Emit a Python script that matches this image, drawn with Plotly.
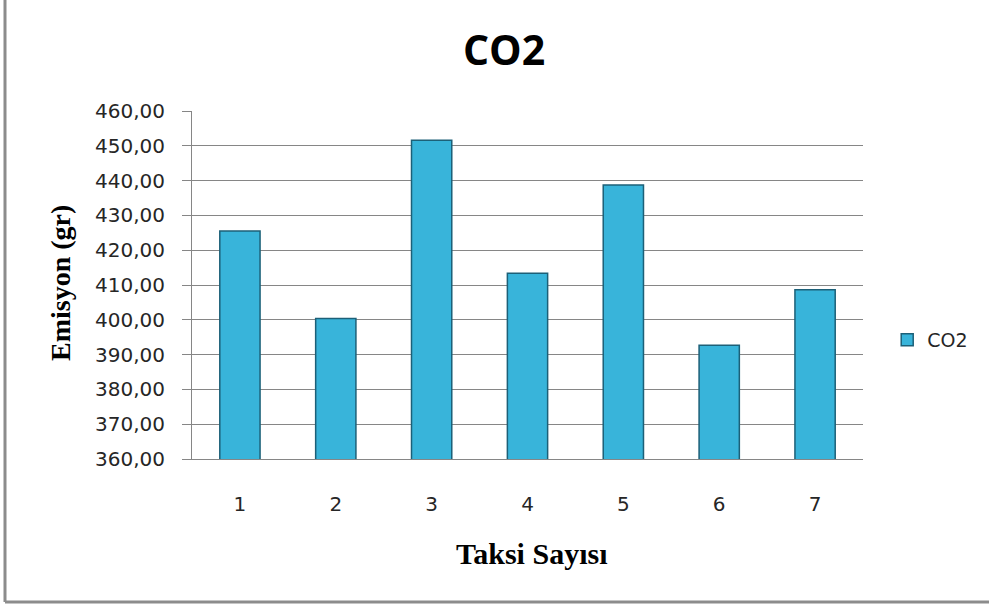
import plotly.graph_objects as go

# Taksi sayısına göre CO2 emisyonu (gr)
taksi_sayisi = ["1", "2", "3", "4", "5", "6", "7"]
co2_emisyon = [425.5, 400.4, 451.6, 413.4, 438.7, 392.7, 408.6]
y_ticks = [360, 370, 380, 390, 400, 410, 420, 430, 440, 450, 460]

W, H = 989, 605
L, R, T, B = 192, 126, 111, 146
PW, PH = W - L - R, H - T - B

fig = go.Figure()
fig.add_trace(go.Bar(
    x=taksi_sayisi,
    y=co2_emisyon,
    name="CO2",
    marker=dict(color="#38B4DA", line=dict(color="#1C6078", width=1.5)),
))

grid = "#868686"
tick_font = dict(family="DejaVu Sans", size=20, color="#262626")
fig.update_layout(
    width=W, height=H,
    margin=dict(l=L, r=R, t=T, b=B),
    paper_bgcolor="white",
    plot_bgcolor="white",
    separators=",.",
    bargap=0.58,
    title=dict(
        text="<b>CO2</b>",
        x=504 / W, xref="container", xanchor="center",
        y=1 - 51 / H, yref="container", yanchor="middle",
        font=dict(family="Open Sans", size=41, color="black"),
    ),
    font=dict(family="DejaVu Sans", color="#262626"),
    showlegend=True,
    legend=dict(
        x=1.048 - 8 / PW, xanchor="left", y=0.342, yanchor="middle",
        bgcolor="rgba(0,0,0,0)", borderwidth=0,
        font=dict(family="DejaVu Sans", size=19, color="#262626"),
        itemwidth=30,
    ),
    xaxis=dict(
        type="category",
        showline=True, linecolor=grid, linewidth=1,
        ticks="", showgrid=False,
        tickfont=tick_font,
        ticklabelstandoff=27,
    ),
    yaxis=dict(
        range=[360, 460],
        tickvals=y_ticks,
        tickformat=".2f",
        showline=True, linecolor=grid, linewidth=1,
        showgrid=True, gridcolor=grid, gridwidth=1,
        ticks="outside", ticklen=9, tickcolor=grid,
        tickfont=tick_font,
        ticklabelstandoff=13,
        zeroline=False,
    ),
    annotations=[
        dict(
            text="<b>Emisyon (gr)</b>", textangle=-90,
            xref="paper", yref="paper",
            x=(60 - L) / PW, y=(H - B - 283) / PH,
            xanchor="center", yanchor="middle", showarrow=False,
            font=dict(family="Liberation Serif", size=28, color="black"),
        ),
        dict(
            text="<b>Taksi Sayısı</b>",
            xref="paper", yref="paper",
            x=(531 - L) / PW, y=(H - B - 553) / PH,
            xanchor="center", yanchor="middle", showarrow=False,
            font=dict(family="Liberation Serif", size=30, color="black"),
        ),
    ],
    shapes=[
        # chart frame: left and bottom edges
        dict(type="line", xref="paper", yref="paper",
             x0=(5 - L) / PW, x1=(5 - L) / PW,
             y0=(H - B) / PH, y1=(H - B - 602) / PH,
             line=dict(color="#8C8C8C", width=3)),
        dict(type="line", xref="paper", yref="paper",
             x0=(5 - L) / PW, x1=(W - L) / PW,
             y0=(H - B - 602) / PH, y1=(H - B - 602) / PH,
             line=dict(color="#8C8C8C", width=3)),
    ],
)

fig.write_html("out.html")
